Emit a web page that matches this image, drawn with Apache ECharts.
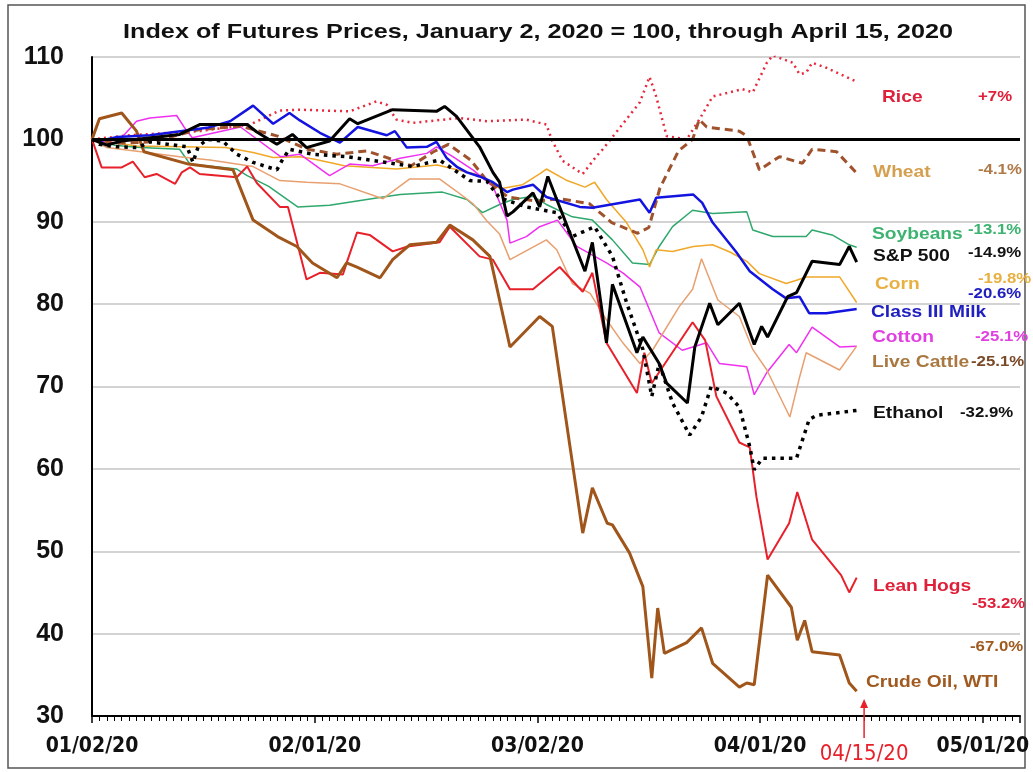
<!DOCTYPE html>
<html>
<head>
<meta charset="utf-8">
<script src="https://cdn.jsdelivr.net/npm/echarts@6/dist/echarts.min.js"></script>
<style>
html, body { margin: 0; padding: 0; background: #fff; }
#chart { width: 1033px; height: 772px; }
</style>
</head>
<body>
<div id="chart"></div>
<script>
// x values are days after Jan 2, 2020 ; y is index (Jan 2 = 100)
var tickDays = [0, 30, 60, 90, 120];
var tickLabels = ['01/02/20', '02/01/20', '03/02/20', '04/01/20', '05/01/20'];
var lastDay = 104;
var lastDayLabel = '04/15/20';

var rice = [[0,100],[5,100.5],[14.5,101],[21.3,101.8],[25.3,103.5],[28,103.6],[34.7,103.4],[36.5,104],[38.3,104.6],[39.7,104.2],[41,102.4],[43.2,102],[49.5,102.6],[53.2,102.2],[58.5,102.4],[61.2,101.8],[62,99.8],[63.4,97.4],[66.1,95.8],[67.9,97.9],[68.8,98.8],[73.8,104.5],[75.1,107.6],[76,105.2],[77.4,100.4],[80.1,100],[81.8,102.4],[83.6,105.2],[87.6,106.1],[89,105.7],[90.9,109.3],[91.7,110.2],[94.4,109.3],[95.3,107.9],[96.2,108.1],[97,109.3],[98.9,108.7],[103,107]];
var wheat = [[0,100],[3,99.5],[8,99.7],[14.5,101.2],[20,101.6],[25,100.4],[29,98.8],[33,98.2],[37,98.6],[41,97.4],[43,96.8],[46,98.5],[48,99.4],[51,97.5],[53,95.2],[56,93],[60,92.5],[63,92.8],[67,92.2],[70,89.9],[73.5,88.6],[75,89.3],[76.5,94.1],[79,98.6],[80.9,100],[81.8,102.4],[82.8,101.5],[87.2,101],[88.2,100.4],[89.9,96.3],[92.6,97.9],[95.7,97.1],[97,98.8],[100.3,98.5],[103,95.9]];
var soybeans = [[0,100],[3,99.3],[6.5,99],[11.8,98.8],[13.2,97],[19.5,96.4],[20.9,95.6],[23.8,94.3],[27.7,91.8],[32,92],[39.2,93],[41.5,93.3],[47.2,93.6],[50.5,92.7],[52.6,91.1],[54.9,92.1],[56.7,92.7],[59.4,93.1],[61.2,92.1],[64.7,90.6],[67.4,90.2],[70.1,87.8],[72.8,85],[75.1,84.8],[76.4,87],[78.2,89.4],[80.9,91.4],[83.6,91],[88.2,91.2],[89,89],[91.7,88.2],[96.2,88.2],[97,89],[99.7,88.4],[102,87.2],[103,86.9]];
var sp500 = [[0,100],[2,99.3],[4,99.8],[11.8,100.6],[14.5,101.8],[20.9,101.8],[22.2,100.9],[24.9,99.4],[27,100.6],[28.9,99],[32,99.8],[34.7,102.5],[35.8,101.9],[40.5,103.6],[46.4,103.4],[47.5,104],[49.1,102.8],[52.2,99.1],[54,96],[54.9,94.8],[55.9,90.7],[56.7,91.2],[59.4,93.5],[60.3,91.8],[61.4,95.5],[62.6,92.7],[66.4,84],[67.4,87.5],[69.3,75.3],[70.1,82.4],[73.4,74.1],[74.2,76],[76.4,72.8],[77.4,70.4],[80.2,68],[81.2,74.8],[83.2,80.1],[84.3,77.5],[87.2,80.1],[89.2,75.1],[90.2,77.3],[91,76],[93.7,80.9],[94.9,81.4],[97,85.2],[100.7,84.8],[102,87],[103,85.1]];
var corn = [[0,100],[6,99.2],[12,99.1],[18,99],[21.7,98.4],[24.4,97.8],[28,97.9],[30,97.6],[34,96.8],[41,96.4],[46.5,96.9],[52,95.7],[55,94],[58,94.5],[60.3,95.8],[61.2,96.4],[64,95],[66.4,94.2],[67.7,94.8],[69.3,92.7],[72,89.9],[74.2,86.6],[75.1,84.5],[76,86.6],[78.2,86.4],[81,87],[83.6,87.2],[86,86.3],[88.2,85.2],[89.9,83.7],[93.5,82.5],[94.9,82.9],[96.2,83.3],[100.7,83.3],[103,80.2]];
var milk = [[0,100],[1,99.8],[3.4,100.3],[7.8,100.5],[15.5,101.4],[18.6,102.2],[21.7,104.1],[24.4,101.9],[26.6,103.2],[28,102.3],[30.7,100.8],[33.4,99.6],[35.8,101.5],[39.7,100.5],[40.8,101],[42.4,99],[45.1,99.1],[46.4,99.7],[47.8,97.7],[49.1,96.7],[50.5,96],[52.2,95.5],[54,94.8],[55.9,93.6],[56.7,93.9],[59.4,94.5],[61.2,93],[65.7,91.8],[67.4,91.7],[73.8,92.7],[75.1,91.1],[76,92.9],[81,93.3],[82.2,92.3],[83.6,89.9],[86.8,86.3],[88.6,84],[91.7,81.8],[93.5,80.7],[95.3,80.9],[96.6,78.9],[98.9,78.9],[103,79.4]];
var cotton = [[0,100],[2,99.6],[4.2,100.4],[6,102.2],[7.8,102.6],[11.4,102.9],[12.4,101.5],[13.5,100.2],[20,101.5],[25.4,97.9],[28,98.2],[32,95.6],[34.7,97],[37.8,96.8],[41.5,97.7],[45.1,98.3],[46.4,99.1],[48.6,97.9],[51.3,96.3],[54,94.3],[55.9,90.2],[56.3,87.4],[58.5,88.2],[60.3,89.4],[62.7,90.2],[65.3,87],[69.3,85],[71.5,83.8],[73.8,82.1],[76.4,76.5],[79.5,74.4],[82.8,75.3],[84.5,72.8],[88.2,72.4],[89.2,69],[90.9,71.7],[93.9,75.1],[94.9,74.1],[97,77.2],[100.7,74.8],[103,74.9]];
var cattle = [[0,100],[2,99],[6.6,98.5],[11.8,97.9],[15.9,97.5],[21.7,96.7],[25.3,95],[28.9,94.8],[33.4,94.6],[39.2,92.8],[42.8,95.2],[46.8,95.2],[49.1,93.7],[51.3,92.2],[53.2,90.1],[54.9,88.5],[56.3,85.4],[61.2,87.8],[62.6,86.6],[64.7,82.5],[67.1,81.3],[69.3,78.1],[71.5,75.3],[73.8,72.8],[75.5,74.4],[79.1,79.7],[80.9,81.8],[82.1,85.5],[84.3,80.5],[87.2,78.5],[89,74.5],[90.9,72],[94,66.3],[95.3,71.1],[96.2,74.1],[100.7,72],[103,74.9]];
var ethanol = [[0,100],[1,99.4],[3.4,99.1],[6.2,99],[7.8,99.7],[12.8,99.1],[13.6,97.2],[14.3,99.1],[15.5,100],[17.6,99.8],[19.5,98.2],[21.7,97.2],[24.9,96.3],[25.7,97.6],[26.6,98.8],[29.7,98.2],[34.3,97.9],[38.8,97.3],[43.2,96.7],[46.8,97.5],[50.9,95],[53.2,94.9],[54.9,92.9],[58.5,91.8],[62.6,91.1],[64.7,88.2],[67.7,89.4],[69.3,87],[70.1,85.8],[72,80.2],[74.2,74.5],[75.4,68.8],[76.4,72.8],[78.2,68],[80.5,64.1],[82.1,66.3],[83.4,70],[85.5,69.2],[87.2,67.5],[88.6,62.7],[89.2,59.9],[90.3,61.3],[94.9,61.3],[96.6,66],[97.6,66.5],[103,67.1]];
var hogs = [[0,100],[1.3,96.6],[4,96.6],[5.5,97.3],[7.1,95.4],[8.7,95.8],[11.2,94.6],[12.1,96],[13.2,96.6],[14.5,95.8],[19.5,95.4],[20.9,96.7],[22.2,94.7],[25.3,91.8],[26.4,91.8],[28.9,83],[30.7,83.8],[33.8,83.6],[34.3,85],[35.7,88.7],[37.4,88.4],[40.5,86.4],[42.5,87],[46.8,87.5],[48.2,89.4],[52.2,85.8],[54,85.4],[56.3,81.8],[59.4,81.8],[63,84.5],[66.1,81.5],[67.4,83.8],[69.3,75.3],[73.4,69.2],[74.4,74.1],[75.4,70.4],[80.9,77.8],[82.6,75.6],[84.1,68.8],[87.2,63.2],[88.6,62.6],[89.5,56.6],[91,49],[93.9,53.4],[95,57.2],[97,51.4],[100.9,47.1],[102,45],[103,46.8]];
var crude = [[0,100],[1,102.5],[4,103.2],[6,101],[7,98.5],[13,97],[19,96.3],[21.7,90.2],[25,88.2],[27.6,87],[29.7,85],[33,83.2],[34.3,85],[35.7,84.5],[38.8,83.2],[40.5,85.4],[42.8,87.2],[46.4,87.5],[48.2,89.6],[51.3,87.8],[53.6,85.8],[56.3,74.8],[60.3,78.5],[62,77.3],[66.1,52.2],[67.4,57.7],[69.4,53.4],[70.1,53.2],[72.4,49.8],[74.2,45.7],[75.4,34.6],[76.2,43.1],[77.1,37.6],[80.1,38.9],[82.1,40.7],[83.6,36.4],[87.2,33.5],[88.2,34],[89.2,33.8],[91,47.1],[94.2,43.2],[95,39.2],[96,41.6],[97,37.8],[100.7,37.4],[102,34],[103,33]];

var names = ['Rice', 'Wheat', 'Soybeans', 'S&P 500', 'Corn', 'Class III Milk', 'Cotton', 'Live Cattle', 'Ethanol', 'Lean Hogs', 'Crude Oil, WTI'];
var changes = ['+7%', '-4.1%', '-13.1%', '-14.9%', '-19.8%', '-20.6%', '-25.1%', '-25.1%', '-32.9%', '-53.2%', '-67.0%'];
var allData = [rice, wheat, soybeans, sp500, corn, milk, cotton, cattle, ethanol, hogs, crude];

// line look per series
var looks = [
    { color: '#e8283c', width: 2.5, type: [2, 4] },
    { color: '#a0522d', width: 3, type: [8, 5] },
    { color: '#2ea86c', width: 1.5, type: 'solid' },
    { color: '#000000', width: 3, type: 'solid' },
    { color: '#f0a828', width: 1.5, type: 'solid' },
    { color: '#1414e0', width: 2.5, type: 'solid' },
    { color: '#f030f0', width: 1.5, type: 'solid' },
    { color: '#e8a070', width: 1.5, type: 'solid' },
    { color: '#000000', width: 3.5, type: [3.5, 5] },
    { color: '#e8202a', width: 2, type: 'solid' },
    { color: '#a0561a', width: 3, type: 'solid' }
];
var zs = [2, 3, 2, 6, 2, 4, 2, 2, 5, 3, 3];

// right-hand labels: [name x, name y, name colour, pct x, pct y, pct colour]
var labelSpots = [
    [882, 97, '#e0203a', 978, 97, '#e0203a'],
    [873, 172, '#d4a050', 978, 170, '#b07a48'],
    [872, 234, '#3cb371', 968, 230, '#3cb371'],
    [873, 256, '#111111', 968, 253, '#111111'],
    [875, 284, '#e8b040', 978, 279, '#e8b040'],
    [871, 312, '#2020c0', 968, 294, '#2020c0'],
    [872, 337, '#e040e0', 975, 337, '#e040e0'],
    [872, 362, '#a87840', 971, 362, '#7a4a28'],
    [873, 413, '#111111', 960, 413, '#111111'],
    [873, 586, '#e0203a', 972, 604, '#e0203a'],
    [866, 682, '#a05a20', 970, 647, '#a05a20']
];

var dom = document.getElementById('chart');
var myChart = echarts.init(dom);

var series = allData.map(function (d, i) {
    return {
        name: names[i],
        type: 'line',
        data: d,
        showSymbol: false,
        symbol: 'none',
        z: zs[i],
        lineStyle: { color: looks[i].color, width: looks[i].width, type: looks[i].type },
        animation: false
    };
});
// the 100 baseline
series.push({
    type: 'line',
    data: [],
    z: 7,
    markLine: {
        silent: true,
        symbol: 'none',
        label: { show: false },
        lineStyle: { color: '#000', width: 3, type: 'solid' },
        data: [{ yAxis: 100 }]
    },
    animation: false
});

var graphics = [
    {
        type: 'rect', shape: { x: 8, y: 5, width: 1017, height: 763 },
        style: { fill: 'none', stroke: '#555', lineWidth: 1.5 }, z: 0
    },
    {
        type: 'text', x: 538, y: 32, scaleX: 1.2,
        style: {
            text: 'Index of Futures Prices, January 2, 2020 = 100, through April 15, 2020',
            font: 'bold 21px "Liberation Sans", Arial, sans-serif', fill: '#111',
            textAlign: 'center', textVerticalAlign: 'middle'
        }
    }
];
labelSpots.forEach(function (s, i) {
    graphics.push({
        type: 'text', x: s[0], y: s[1], z: 20, scaleX: 1.13,
        style: {
            text: names[i], font: 'bold 17px "Liberation Sans", Arial, sans-serif',
            fill: s[2], textVerticalAlign: 'middle'
        }
    });
    graphics.push({
        type: 'text', x: s[3], y: s[4], z: 20, scaleX: 1.12,
        style: {
            text: changes[i], font: 'bold 15px "Liberation Sans", Arial, sans-serif',
            fill: s[5], textVerticalAlign: 'middle'
        }
    });
});

option = {
    backgroundColor: '#fff',
    animation: false,
    grid: { left: 92, right: 13, top: 57, bottom: 56, containLabel: false },
    xAxis: {
        type: 'value',
        min: 0,
        max: 125,
        interval: 30,
        axisLine: { show: true, lineStyle: { color: '#000', width: 2 } },
        axisTick: { show: true, inside: false, length: 7, lineStyle: { color: '#000', width: 1.5 } },
        minorTick: { show: true, splitNumber: 30, length: 5, lineStyle: { color: '#000', width: 1 } },
        splitLine: { show: false },
        axisLabel: {
            margin: 20,
            showMaxLabel: false,
            color: '#111',
            fontFamily: '"Liberation Sans Narrow", "DejaVu Sans Condensed", Arial, sans-serif',
            fontWeight: 'bold',
            fontSize: 21,
            formatter: function (v) {
                var k = tickDays.indexOf(v);
                return k >= 0 ? tickLabels[k] : '';
            }
        }
    },
    yAxis: {
        type: 'value',
        min: 30,
        max: 110,
        interval: 10,
        axisLine: { show: true, lineStyle: { color: '#000', width: 2 } },
        axisTick: { show: false },
        splitLine: { show: true, lineStyle: { color: '#c4c4c4', width: 1.5 } },
        axisLabel: {
            margin: 28,
            color: '#111',
            fontFamily: '"Liberation Sans", Arial, sans-serif',
            fontWeight: 'bold',
            fontSize: 25
        }
    },
    graphic: graphics,
    series: series
};

if (option && typeof option === 'object') {
    myChart.setOption(option, true);
}

// red marker for the last data day, placed from the axis scale
var px = myChart.convertToPixel({ gridIndex: 0 }, [lastDay, 30]);
graphics.push({
    type: 'line', z: 20,
    shape: { x1: px[0], y1: px[1] + 22, x2: px[0], y2: px[1] - 10 },
    style: { stroke: '#e8202a', lineWidth: 1.5 }
});
graphics.push({
    type: 'polygon', z: 20,
    shape: { points: [[px[0] - 4, px[1] - 8], [px[0] + 4, px[1] - 8], [px[0], px[1] - 17]] },
    style: { fill: '#e8202a' }
});
graphics.push({
    type: 'text', x: px[0], y: px[1] + 38, z: 20,
    style: {
        text: lastDayLabel, fill: '#e8202a', textAlign: 'center', textVerticalAlign: 'middle',
        font: '22px "Liberation Sans Narrow", "DejaVu Sans Condensed", Arial, sans-serif'
    }
});
myChart.setOption({ graphic: graphics }, { replaceMerge: ['graphic'] });
</script>
</body>
</html>
